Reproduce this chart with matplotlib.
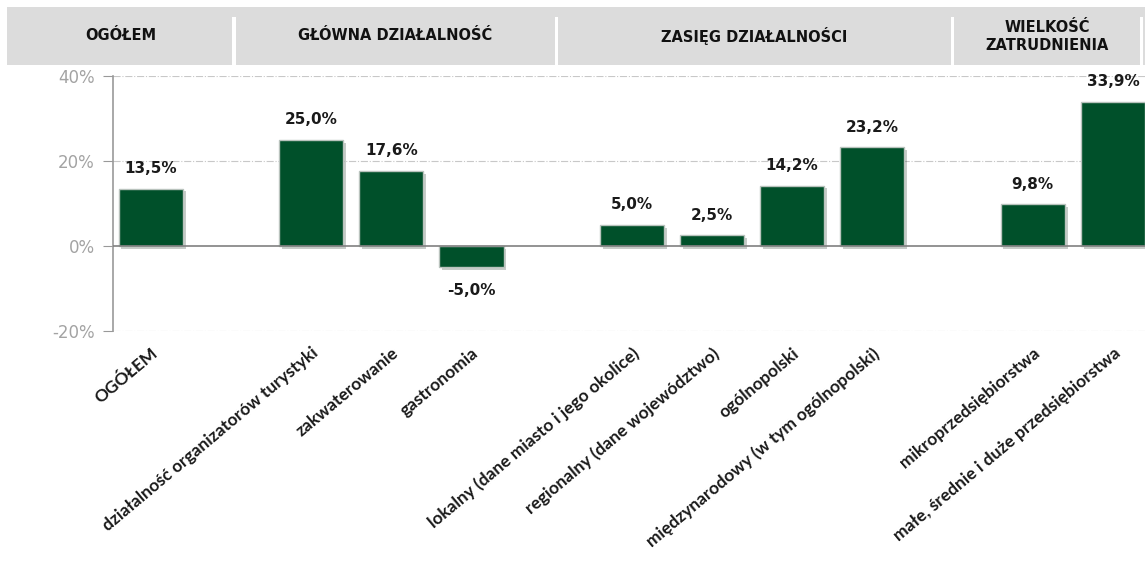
import numpy as np
import matplotlib
matplotlib.use('Agg')
import matplotlib.pyplot as plt
import matplotlib.patheffects as pe
from matplotlib.patches import Rectangle

# Dane (puste miejsca = odstępy między grupami)
kategorie = ['OGÓŁEM', '',
             'działalność organizatorów turystyki', 'zakwaterowanie', 'gastronomia', '',
             'lokalny (dane miasto i jego okolice)', 'regionalny (dane województwo)',
             'ogólnopolski', 'międzynarodowy (w tym ogólnopolski)', '',
             'mikroprzedsiębiorstwa', 'małe, średnie i duże przedsiębiorstwa']
wartosci = [13.5, None, 25.0, 17.6, -5.0, None, 5.0, 2.5, 14.2, 23.2, None, 9.8, 33.9]
grupy = ['OGÓŁEM', 'GŁÓWNA DZIAŁALNOŚĆ', 'ZASIĘG DZIAŁALNOŚCI', 'WIELKOŚĆ\nZATRUDNIENIA']
granice = [None, 1.04, 5.06, 10.0, 12.35]   # podział nagłówka (w jednostkach osi x)
yticks = [-20, 0, 20, 40]

ZIELONY = '#00502A'
SZARY = '#A3A3A3'

W, H = 1145, 563
fig = plt.figure(figsize=(W/100, H/100), dpi=100)
ax = fig.add_axes([113/W, (H-331)/H, 1040/W, 255/H])

x = np.arange(len(kategorie))
for xi, v in zip(x, wartosci):
    if v is None:
        continue
    b = ax.bar(xi, v, width=0.8, color=ZIELONY, edgecolor='#b9c3bd', lw=1.0, zorder=3)
    b[0].set_path_effects([pe.SimplePatchShadow(offset=(2, -2), alpha=0.22), pe.Normal()])
    lab = f'{v:.1f}%'.replace('.', ',')
    if v >= 0:
        ax.text(xi, v + 3.0, lab, ha='center', va='bottom', fontsize=11,
                fontweight='bold', color='#1a1a1a')
    else:
        ax.text(xi, v - 3.6, lab, ha='center', va='top', fontsize=11,
                fontweight='bold', color='#1a1a1a')

ax.set_xlim(-0.47, 12.5)
ax.set_ylim(-20, 40)
ax.set_yticks(yticks)
ax.set_yticklabels([f'{t}%' for t in yticks], color=SZARY, fontsize=12)
for t in [-20, 20, 40]:
    ax.axhline(t, color='#c8c8c8', lw=0.8, ls='-.', zorder=1)
ax.axhline(0, color='#808080', lw=1.2, zorder=4)

for s in ['top', 'right', 'bottom']:
    ax.spines[s].set_visible(False)
ax.spines['left'].set_color('#999999')
ax.spines['left'].set_linewidth(1.2)
ax.tick_params(axis='y', length=7, color='#999999', pad=6)
ax.tick_params(axis='x', length=0)

ax.set_xticks(x)
ax.set_xticklabels(kategorie, rotation=40, ha='right', rotation_mode='anchor',
                   fontsize=12.5, fontweight='bold', family='Lato', color='#1a1a1a')
ax.tick_params(axis='x', pad=10)

# Nagłówek z nazwami grup
hdr = fig.add_axes([7/W, (H-65)/H, (W-7)/W, 58/H])
x0 = -0.47 - (113-7)/80.2
hdr.set_xlim(x0, x0 + (W-7)/80.2)
hdr.set_ylim(0, 58)
hdr.axis('off')
gr = [x0] + granice[1:]
for i, g in enumerate(grupy):
    a, b = gr[i], gr[i+1]
    hdr.add_patch(Rectangle((a, 0), b - a, 58, color='#DCDCDC', lw=0))
    if i > 0:
        hdr.add_patch(Rectangle((a - 0.02, 0), 0.04, 48, color='white', lw=0))
    hdr.text((a + b) / 2, 29, g, ha='center', va='center', fontsize=10.5,
             fontweight='bold', color='#111111', linespacing=1.25)
hdr.add_patch(Rectangle((gr[-1], 0), 0.5, 58, color='#DCDCDC', lw=0))
hdr.add_patch(Rectangle((gr[-1] - 0.02, 0), 0.04, 48, color='white', lw=0))

fig.savefig('out.png', dpi=100)
